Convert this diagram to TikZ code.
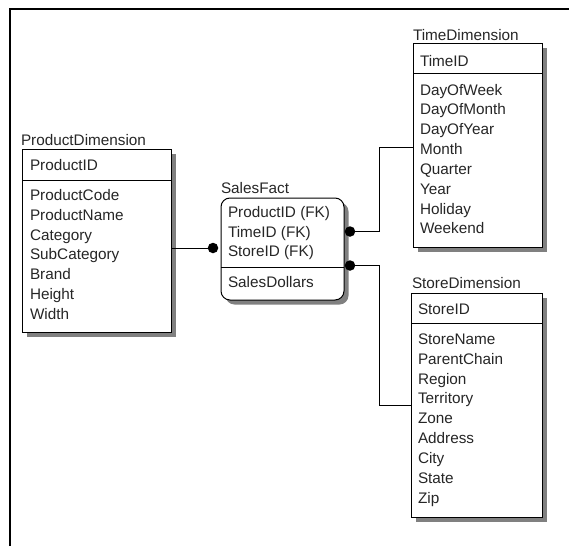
\documentclass[tikz,border=0pt]{standalone}
\usepackage{fontspec}
\setmainfont{Liberation Sans}
\usetikzlibrary{shadows}

\begin{document}
\begin{tikzpicture}[x=1pt,y=-1pt,
  every node/.style={font=\fontsize{15.3}{18}\selectfont, inner sep=0pt, outer sep=0pt, text=black!85},
  entity/.style={draw, line width=1pt, fill=white, anchor=north west,
    drop shadow={shadow xshift=4.5pt, shadow yshift=-4.5pt, fill=black!50, opacity=1}},
  factbox/.style={entity, rounded corners=9pt},
  fld/.style={anchor=base west},
  sepline/.style={line width=1pt},
  link/.style={line width=1pt},
  fkdot/.style={circle, fill=black, minimum size=10.5pt, inner sep=0pt},
]
\useasboundingbox (0,0) rectangle (569,546);
\draw[line width=2pt] (10,546) -- (10,9) -- (569,9);

% ---------- ProductDimension ----------
\node[fld] (prodT) at (21,145) {ProductDimension};
\node[entity, minimum width=149pt, minimum height=183pt] (prod) at (22,149) {};
\draw[sepline] (22,180) -- (171,180);
\node[fld] (prodK) at (30,170) {ProductID};
\foreach \t [count=\i from 0] in {ProductCode,ProductName,Category,SubCategory,Brand,Height,Width}
  \node[fld] (prodF\i) at (30,{200.5+19.75*\i}) {\t};

% ---------- SalesFact ----------
\node[fld] (factT) at (221,193) {SalesFact};
\node[factbox, minimum width=123pt, minimum height=102pt] (fact) at (221,198) {};
\draw[sepline] (221,267) -- (344,267);
\node[fld] (factF0) at (228,217.5) {ProductID (FK)};
\node[fld] (factF1) at (228,237) {TimeID (FK)};
\node[fld] (factF2) at (228,256.5) {StoreID (FK)};
\node[fld] (factM) at (228,287.5) {SalesDollars};

% ---------- TimeDimension ----------
\node[fld] (timeT) at (413,40) {TimeDimension};
\node[entity, minimum width=129pt, minimum height=204pt] (time) at (413,43) {};
\draw[sepline] (413,73) -- (542,73);
\node[fld] (timeK) at (420,66) {TimeID};
\foreach \t [count=\i from 0] in {DayOfWeek,DayOfMonth,DayOfYear,Month,Quarter,Year,Holiday,Weekend}
  \node[fld] (timeF\i) at (420,{95+19.85*\i}) {\t};

% ---------- StoreDimension ----------
\node[fld] (storeT) at (412,288.5) {StoreDimension};
\node[entity, minimum width=131pt, minimum height=224pt] (store) at (411,293) {};
\draw[sepline] (411,323) -- (542,323);
\node[fld] (storeK) at (418,314) {StoreID};
\foreach \t [count=\i from 0] in {StoreName,ParentChain,Region,Territory,Zone,Address,City,State,Zip}
  \node[fld] (storeF\i) at (418,{344.3+19.85*\i}) {\t};

% ---------- relationships ----------
\node[fkdot] (dotP) at (213,248) {};
\node[fkdot] (dotT) at (350,231.5) {};
\node[fkdot] (dotS) at (350,265.5) {};
\coordinate (bendT) at (379,147);
\coordinate (bendS) at (379,405.5);

\draw[link] (prod.east |- dotP) -- (dotP.center);
\draw[link] (dotT.center) -| (bendT) -- (time.west |- bendT);
\draw[link] (dotS.center) -| (bendS) -- (store.west |- bendS);
\end{tikzpicture}
\end{document}
